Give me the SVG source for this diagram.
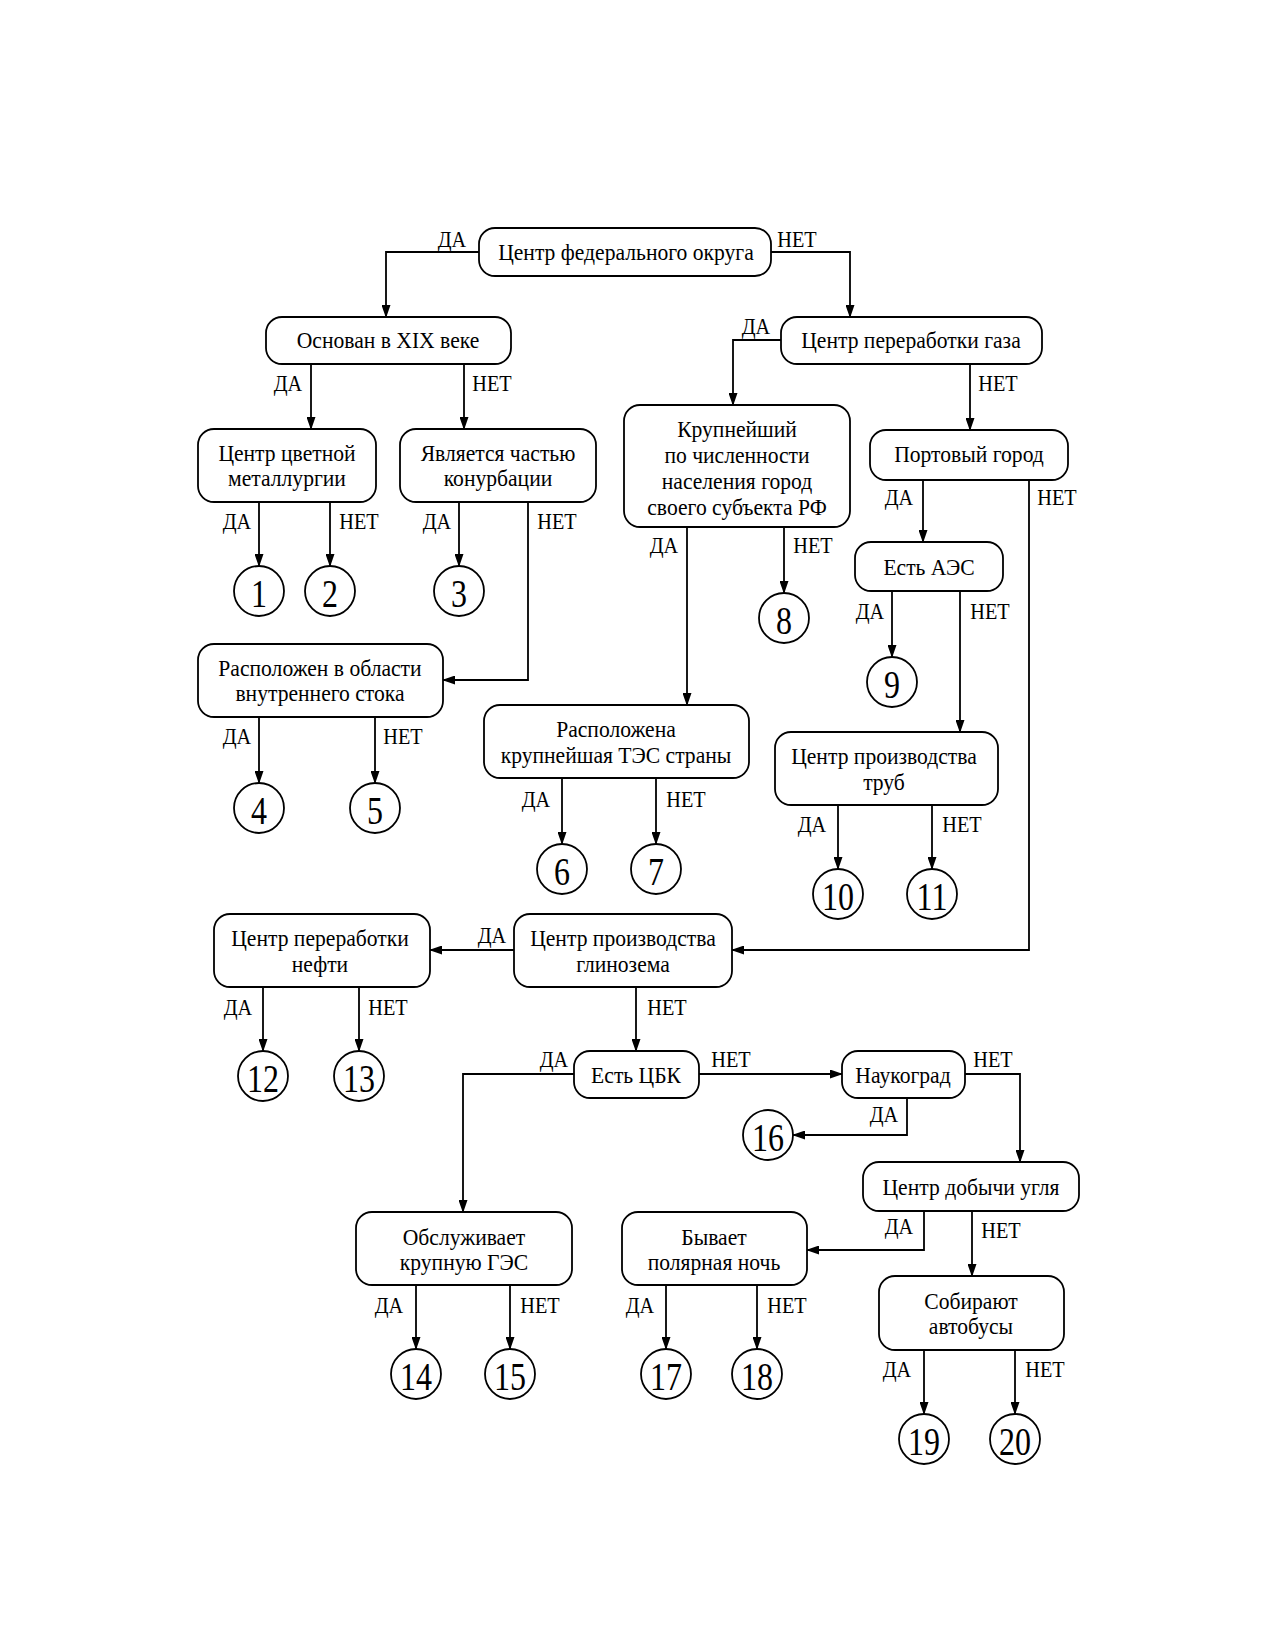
<svg xmlns="http://www.w3.org/2000/svg" width="1275" height="1650" viewBox="0 0 1275 1650">
<defs>
<marker id="arr" markerWidth="13" markerHeight="9" refX="12" refY="4.5" orient="auto" markerUnits="userSpaceOnUse">
<path d="M0,0 L13,4.5 L0,9 Z" fill="#000"/>
</marker>
<style>
.box{fill:#fff;stroke:#000;stroke-width:1.8}
.cir{fill:#fff;stroke:#000;stroke-width:1.8}
.t,.l,.n{font-family:"Liberation Serif","Times New Roman",serif;text-anchor:middle;dominant-baseline:central;fill:#000;transform-box:fill-box;transform-origin:center}
.t{font-size:24px;transform:scaleX(0.9)}
.l{font-size:22.5px;transform:scaleX(0.9)}
.n{font-size:41px;transform:scaleX(0.78)}
.e{fill:none;stroke:#000;stroke-width:1.8;marker-end:url(#arr)}
</style>
</defs>
<rect width="1275" height="1650" fill="#fff"/>
<g id="connectors">
<path class="e" d="M479,252 H386 V317"/>
<path class="e" d="M771,252 H850 V317"/>
<path class="e" d="M311,364 V429"/>
<path class="e" d="M464,364 V429"/>
<path class="e" d="M259,502 V566"/>
<path class="e" d="M330,502 V566"/>
<path class="e" d="M459,502 V566"/>
<path class="e" d="M528,502 V680 H443"/>
<path class="e" d="M259,717 V783"/>
<path class="e" d="M375,717 V783"/>
<path class="e" d="M781,340 H733 V405"/>
<path class="e" d="M970,364 V430"/>
<path class="e" d="M687,527 V705"/>
<path class="e" d="M784,527 V593"/>
<path class="e" d="M923,480 V542"/>
<path class="e" d="M1029,480 V950 H732"/>
<path class="e" d="M892,591 V657"/>
<path class="e" d="M960,591 V732"/>
<path class="e" d="M562,778 V844"/>
<path class="e" d="M656,778 V844"/>
<path class="e" d="M838,805 V869"/>
<path class="e" d="M932,805 V869"/>
<path class="e" d="M514,950 H430"/>
<path class="e" d="M636,987 V1051"/>
<path class="e" d="M263,987 V1051"/>
<path class="e" d="M359,987 V1051"/>
<path class="e" d="M574,1074 H463 V1212"/>
<path class="e" d="M699,1074 H842"/>
<path class="e" d="M907,1098 V1135 H793"/>
<path class="e" d="M965,1074 H1020 V1162"/>
<path class="e" d="M924,1211 V1250 H807"/>
<path class="e" d="M972,1211 V1276"/>
<path class="e" d="M416,1285 V1349"/>
<path class="e" d="M510,1285 V1349"/>
<path class="e" d="M666,1285 V1349"/>
<path class="e" d="M757,1285 V1349"/>
<path class="e" d="M924,1350 V1414"/>
<path class="e" d="M1015,1350 V1414"/>
</g>
<g id="labels">
<text class="l" x="452" y="240">ДА</text>
<text class="l" x="797" y="240">НЕТ</text>
<text class="l" x="288" y="384">ДА</text>
<text class="l" x="492" y="384">НЕТ</text>
<text class="l" x="756" y="327">ДА</text>
<text class="l" x="998" y="384">НЕТ</text>
<text class="l" x="237" y="522">ДА</text>
<text class="l" x="359" y="522">НЕТ</text>
<text class="l" x="437" y="522">ДА</text>
<text class="l" x="557" y="522">НЕТ</text>
<text class="l" x="664" y="546">ДА</text>
<text class="l" x="813" y="546">НЕТ</text>
<text class="l" x="899" y="498">ДА</text>
<text class="l" x="1057" y="498">НЕТ</text>
<text class="l" x="870" y="612">ДА</text>
<text class="l" x="990" y="612">НЕТ</text>
<text class="l" x="237" y="737">ДА</text>
<text class="l" x="403" y="737">НЕТ</text>
<text class="l" x="536" y="800">ДА</text>
<text class="l" x="686" y="800">НЕТ</text>
<text class="l" x="812" y="825">ДА</text>
<text class="l" x="962" y="825">НЕТ</text>
<text class="l" x="492" y="936">ДА</text>
<text class="l" x="667" y="1008">НЕТ</text>
<text class="l" x="238" y="1008">ДА</text>
<text class="l" x="388" y="1008">НЕТ</text>
<text class="l" x="554" y="1060">ДА</text>
<text class="l" x="731" y="1060">НЕТ</text>
<text class="l" x="884" y="1115">ДА</text>
<text class="l" x="993" y="1060">НЕТ</text>
<text class="l" x="899" y="1227">ДА</text>
<text class="l" x="1001" y="1231">НЕТ</text>
<text class="l" x="389" y="1306">ДА</text>
<text class="l" x="540" y="1306">НЕТ</text>
<text class="l" x="640" y="1306">ДА</text>
<text class="l" x="787" y="1306">НЕТ</text>
<text class="l" x="897" y="1370">ДА</text>
<text class="l" x="1045" y="1370">НЕТ</text>
</g>
<g id="n1"><rect class="box" x="479" y="228" width="292" height="48" rx="16"/><text class="t" x="626" y="252">Центр федерального округа</text></g>
<g id="n2"><rect class="box" x="266" y="317" width="245" height="47" rx="16"/><text class="t" x="388" y="340">Основан в XIX веке</text></g>
<g id="n3"><rect class="box" x="781" y="317" width="261" height="47" rx="16"/><text class="t" x="911" y="340">Центр переработки газа</text></g>
<g id="n4"><rect class="box" x="198" y="429" width="178" height="73" rx="16"/><text class="t" x="287" y="453">Центр цветной</text><text class="t" x="287" y="478">металлургии</text></g>
<g id="n5"><rect class="box" x="400" y="429" width="196" height="73" rx="16"/><text class="t" x="498" y="453">Является частью</text><text class="t" x="498" y="478">конурбации</text></g>
<g id="n6"><rect class="box" x="624" y="405" width="226" height="122" rx="16"/><text class="t" x="737" y="429">Крупнейший</text><text class="t" x="737" y="455">по численности</text><text class="t" x="737" y="481">населения город</text><text class="t" x="737" y="507">своего субъекта РФ</text></g>
<g id="n7"><rect class="box" x="870" y="430" width="198" height="50" rx="16"/><text class="t" x="969" y="454">Портовый город</text></g>
<g id="n8"><rect class="box" x="198" y="644" width="245" height="73" rx="16"/><text class="t" x="320" y="668">Расположен в области</text><text class="t" x="320" y="693">внутреннего стока</text></g>
<g id="n9"><rect class="box" x="855" y="542" width="148" height="49" rx="16"/><text class="t" x="929" y="567">Есть АЭС</text></g>
<g id="n10"><rect class="box" x="484" y="705" width="265" height="73" rx="16"/><text class="t" x="616" y="729">Расположена</text><text class="t" x="616" y="755">крупнейшая ТЭС страны</text></g>
<g id="n11"><rect class="box" x="775" y="732" width="223" height="73" rx="16"/><text class="t" x="884" y="756">Центр производства</text><text class="t" x="884" y="782">труб</text></g>
<g id="n12"><rect class="box" x="514" y="914" width="218" height="73" rx="16"/><text class="t" x="623" y="938">Центр производства</text><text class="t" x="623" y="964">глинозема</text></g>
<g id="n13"><rect class="box" x="214" y="914" width="216" height="73" rx="16"/><text class="t" x="320" y="938">Центр переработки</text><text class="t" x="320" y="964">нефти</text></g>
<g id="n14"><rect class="box" x="574" y="1051" width="125" height="47" rx="16"/><text class="t" x="636" y="1075">Есть ЦБК</text></g>
<g id="n15"><rect class="box" x="842" y="1051" width="123" height="47" rx="16"/><text class="t" x="903" y="1075">Наукоград</text></g>
<g id="n16"><rect class="box" x="863" y="1162" width="216" height="49" rx="16"/><text class="t" x="971" y="1187">Центр добычи угля</text></g>
<g id="n17"><rect class="box" x="356" y="1212" width="216" height="73" rx="16"/><text class="t" x="464" y="1237">Обслуживает</text><text class="t" x="464" y="1262">крупную ГЭС</text></g>
<g id="n18"><rect class="box" x="622" y="1212" width="185" height="73" rx="16"/><text class="t" x="714" y="1237">Бывает</text><text class="t" x="714" y="1262">полярная ночь</text></g>
<g id="n19"><rect class="box" x="879" y="1276" width="185" height="74" rx="16"/><text class="t" x="971" y="1301">Собирают</text><text class="t" x="971" y="1326">автобусы</text></g>
<g id="c1"><circle class="cir" cx="259" cy="591" r="25"/><text class="n" x="259" y="593">1</text></g>
<g id="c2"><circle class="cir" cx="330" cy="591" r="25"/><text class="n" x="330" y="593">2</text></g>
<g id="c3"><circle class="cir" cx="459" cy="591" r="25"/><text class="n" x="459" y="593">3</text></g>
<g id="c4"><circle class="cir" cx="259" cy="808" r="25"/><text class="n" x="259" y="810">4</text></g>
<g id="c5"><circle class="cir" cx="375" cy="808" r="25"/><text class="n" x="375" y="810">5</text></g>
<g id="c6"><circle class="cir" cx="562" cy="869" r="25"/><text class="n" x="562" y="871">6</text></g>
<g id="c7"><circle class="cir" cx="656" cy="869" r="25"/><text class="n" x="656" y="871">7</text></g>
<g id="c8"><circle class="cir" cx="784" cy="618" r="25"/><text class="n" x="784" y="620">8</text></g>
<g id="c9"><circle class="cir" cx="892" cy="682" r="25"/><text class="n" x="892" y="684">9</text></g>
<g id="c10"><circle class="cir" cx="838" cy="894" r="25"/><text class="n" x="838" y="896">10</text></g>
<g id="c11"><circle class="cir" cx="932" cy="894" r="25"/><text class="n" x="932" y="896">11</text></g>
<g id="c12"><circle class="cir" cx="263" cy="1076" r="25"/><text class="n" x="263" y="1078">12</text></g>
<g id="c13"><circle class="cir" cx="359" cy="1076" r="25"/><text class="n" x="359" y="1078">13</text></g>
<g id="c14"><circle class="cir" cx="416" cy="1374" r="25"/><text class="n" x="416" y="1376">14</text></g>
<g id="c15"><circle class="cir" cx="510" cy="1374" r="25"/><text class="n" x="510" y="1376">15</text></g>
<g id="c16"><circle class="cir" cx="768" cy="1135" r="25"/><text class="n" x="768" y="1137">16</text></g>
<g id="c17"><circle class="cir" cx="666" cy="1374" r="25"/><text class="n" x="666" y="1376">17</text></g>
<g id="c18"><circle class="cir" cx="757" cy="1374" r="25"/><text class="n" x="757" y="1376">18</text></g>
<g id="c19"><circle class="cir" cx="924" cy="1439" r="25"/><text class="n" x="924" y="1441">19</text></g>
<g id="c20"><circle class="cir" cx="1015" cy="1439" r="25"/><text class="n" x="1015" y="1441">20</text></g>
</svg>
